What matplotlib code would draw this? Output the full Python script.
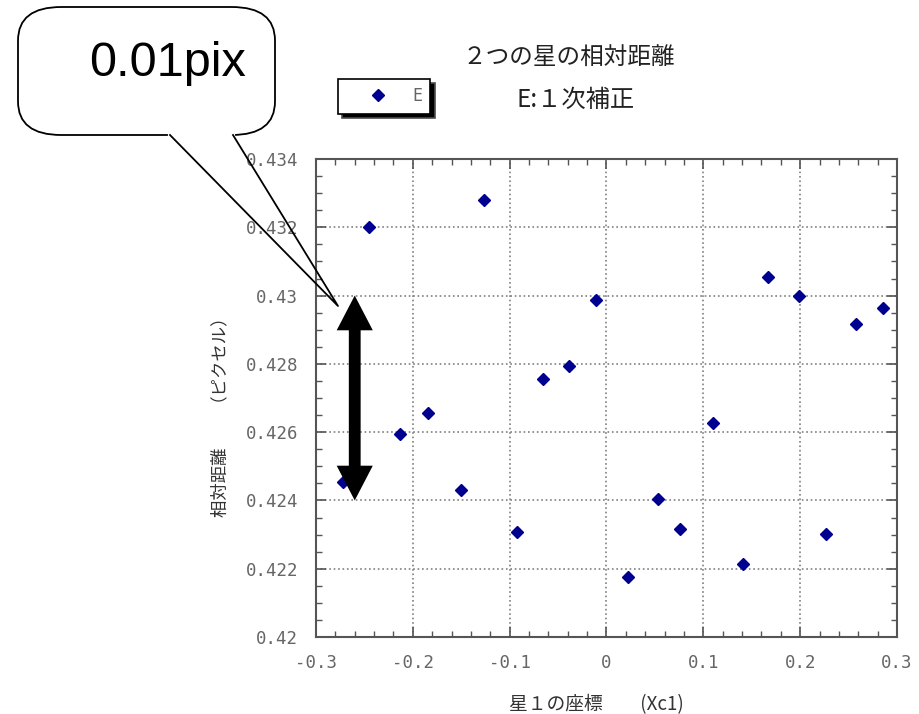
import matplotlib.pyplot as plt
import numpy as np
from matplotlib.patches import FancyBboxPatch, FancyArrowPatch, ArrowStyle
from matplotlib.lines import Line2D

# star 1 x coordinate vs relative distance (pixel), E: 1st order correction
xc1 = [-0.2718, -0.2453, -0.2129, -0.1840, -0.1506, -0.1262, -0.0921, -0.0653,
       -0.0387, -0.0111, 0.0225, 0.0535, 0.0759, 0.1097, 0.1413, 0.1668,
       0.1985, 0.2264, 0.2574, 0.2859]
dist = [0.42455, 0.43202, 0.42594, 0.42656, 0.42431, 0.43280, 0.42307, 0.42755,
        0.42795, 0.42987, 0.42177, 0.42404, 0.42315, 0.42628, 0.42213, 0.43055,
        0.43000, 0.42301, 0.42917, 0.42963]

x_ticks = [-0.3, -0.2, -0.1, 0, 0.1, 0.2, 0.3]
x_tick_labels = ['-0.3', '-0.2', '-0.1', '0', '0.1', '0.2', '0.3']
y_ticks = [0.42, 0.422, 0.424, 0.426, 0.428, 0.43, 0.432, 0.434]
y_tick_labels = ['0.42', '0.422', '0.424', '0.426', '0.428', '0.43', '0.432', '0.434']

JP = ['Noto Sans CJK JP', 'DejaVu Sans']
W, H = 920, 714


def fig_xy(px, py):
    # pixel position in the image -> figure fraction
    return px / W, 1 - py / H


fig = plt.figure(figsize=(9.2, 7.14), dpi=100)
ax = fig.add_axes([316 / W, 1 - 637 / H, 581 / W, 478 / H])

ax.plot(xc1, dist, linestyle='none', marker='D', markersize=6.3,
        color='#000090', label='E', zorder=5)

ax.set_xlim(-0.3, 0.3)
ax.set_ylim(0.42, 0.434)
ax.set_xticks(x_ticks)
ax.set_xticklabels(x_tick_labels)
ax.set_yticks(y_ticks)
ax.set_yticklabels(y_tick_labels)
ax.set_xticks(np.arange(-0.3, 0.3001, 0.02), minor=True)
ax.set_yticks(np.arange(0.42, 0.43401, 0.0005), minor=True)
ax.tick_params(which='both', direction='in', top=True, right=True, colors='#555555',
               labelcolor='#666666', labelsize=12.5)
ax.tick_params(axis='x', which='major', pad=12)
ax.tick_params(axis='y', which='major', pad=13)
ax.tick_params(which='major', length=7, width=1.2)
ax.tick_params(which='minor', length=4, width=1.0)
for lab in ax.get_xticklabels() + ax.get_yticklabels():
    lab.set_family('DejaVu Sans Mono')
for s in ax.spines.values():
    s.set_color('#555555')
    s.set_linewidth(1.5)
ax.grid(True, which='major', linestyle=':', color='#808080', linewidth=1.2)

ax.set_xlabel('星１の座標　　(Xc1)', family=JP, fontsize=13.5, color='#333333')
ax.xaxis.set_label_coords(0.482, -0.119)
ax.set_ylabel('相対距離　　（ピクセル）', family=JP, fontsize=12.5, color='#333333')
ax.yaxis.set_label_coords(-0.15, 0.47)

fig.text(*fig_xy(569, 57), '２つの星の相対距離', family=JP, fontsize=17, color='#222222',
         ha='center', va='center')
fig.text(*fig_xy(576, 100), 'E:１次補正', family=JP, fontsize=17.5, color='#222222',
         ha='center', va='center')

leg = ax.legend(loc='upper left', bbox_to_anchor=fig_xy(338, 79), bbox_transform=fig.transFigure,
                borderaxespad=0, fancybox=False, framealpha=1, edgecolor='black',
                borderpad=0.5, handlelength=3.8, handletextpad=0.15, fontsize=12,
                shadow={'ox': 3, 'oy': -3, 'facecolor': 'black', 'alpha': 1})
leg.get_frame().set_linewidth(1.2)
for t in leg.get_texts():
    t.set_color('#666666')
    t.set_family('DejaVu Sans Mono')

# double arrow marking 0.01 pix span
arr_x = -0.26
for y_end in (0.430, 0.424):
    arrow = FancyArrowPatch((arr_x, 0.427), (arr_x, y_end),
                            arrowstyle=ArrowStyle.Simple(head_length=25, head_width=26, tail_width=8.5),
                            mutation_scale=1, shrinkA=0, shrinkB=0, color='black', lw=0, zorder=8)
    ax.add_patch(arrow)

# speech bubble callout
x0, y0 = fig_xy(18, 135)
x1, y1 = fig_xy(275, 7)
bubble = FancyBboxPatch((x0, y0), x1 - x0, y1 - y0,
                        boxstyle='round,pad=0,rounding_size=0.047',
                        transform=fig.transFigure, facecolor='white', edgecolor='black',
                        linewidth=1.3, zorder=10)
fig.patches.append(bubble)
tip = fig_xy(338, 306)
base_l = fig_xy(170, 135)
base_r = fig_xy(233, 135)
fig.lines.append(Line2D([base_l[0], base_r[0]], [base_l[1], base_l[1]], transform=fig.transFigure,
                        color='white', linewidth=3, zorder=11))
fig.lines.append(Line2D([base_l[0], tip[0], base_r[0]], [base_l[1], tip[1], base_r[1]],
                        transform=fig.transFigure, color='black', linewidth=1.3, zorder=12))
fig.text(*fig_xy(168, 63), '0.01pix', fontsize=35, family='Liberation Sans', color='black',
         ha='center', va='center', zorder=13)

fig.savefig('out.png', dpi=100)
plt.close(fig)
